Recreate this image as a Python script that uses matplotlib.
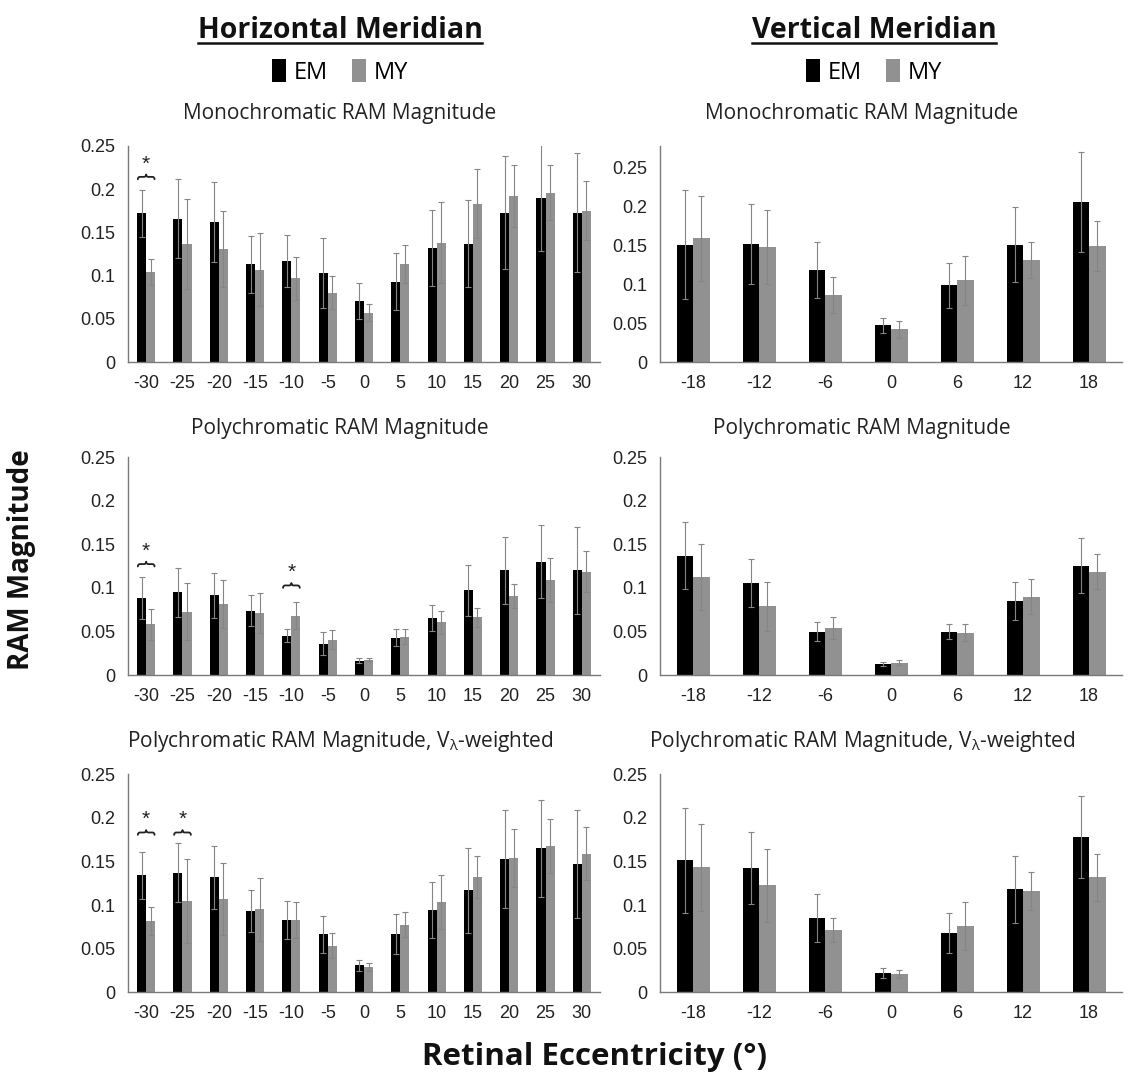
import matplotlib

matplotlib.use("Agg")
import matplotlib.pyplot as plt
import numpy as np
from matplotlib.lines import Line2D
from matplotlib.patches import Patch, PathPatch
from matplotlib.path import Path

plt.rcParams["font.family"] = ["Open Sans", "DejaVu Sans"]
plt.rcParams["mathtext.fontset"] = "custom"
plt.rcParams["mathtext.rm"] = "Open Sans"

EM_COLOR = "black"
MY_COLOR = "#919191"
ERR_COLOR = "#858585"

# ---------------------------------------------------------------------------
# Data: mean RAM magnitude and error (+/-) per eccentricity
# ---------------------------------------------------------------------------
horiz_ecc = ["-30", "-25", "-20", "-15", "-10", "-5", "0", "5", "10", "15", "20", "25", "30"]
vert_ecc = ["-18", "-12", "-6", "0", "6", "12", "18"]

# Monochromatic, horizontal meridian
mono_h_em = [0.172, 0.166, 0.162, 0.113, 0.117, 0.103, 0.071, 0.093, 0.132, 0.137, 0.173, 0.190, 0.173]
mono_h_em_err = [0.027, 0.046, 0.046, 0.033, 0.030, 0.041, 0.021, 0.033, 0.044, 0.050, 0.065, 0.062, 0.069]
mono_h_my = [0.104, 0.137, 0.131, 0.107, 0.097, 0.080, 0.057, 0.113, 0.138, 0.183, 0.192, 0.196, 0.175]
mono_h_my_err = [0.015, 0.052, 0.044, 0.042, 0.025, 0.019, 0.010, 0.022, 0.047, 0.040, 0.036, 0.032, 0.034]

# Monochromatic, vertical meridian
mono_v_em = [0.151, 0.152, 0.119, 0.047, 0.099, 0.151, 0.206]
mono_v_em_err = [0.070, 0.051, 0.036, 0.0095, 0.029, 0.048, 0.064]
mono_v_my = [0.159, 0.148, 0.0865, 0.042, 0.105, 0.131, 0.149]
mono_v_my_err = [0.055, 0.047, 0.023, 0.011, 0.032, 0.023, 0.032]

# Polychromatic, horizontal meridian
poly_h_em = [0.088, 0.095, 0.0915, 0.074, 0.045, 0.036, 0.0165, 0.043, 0.065, 0.097, 0.120, 0.130, 0.120]
poly_h_em_err = [0.024, 0.028, 0.026, 0.018, 0.0075, 0.013, 0.003, 0.0095, 0.015, 0.029, 0.038, 0.042, 0.050]
poly_h_my = [0.058, 0.0727, 0.0815, 0.0716, 0.068, 0.0406, 0.0176, 0.044, 0.0605, 0.066, 0.0904, 0.109, 0.1187]
poly_h_my_err = [0.018, 0.033, 0.028, 0.023, 0.0155, 0.011, 0.002, 0.0085, 0.013, 0.011, 0.014, 0.025, 0.0235]

# Polychromatic, vertical meridian
poly_v_em = [0.137, 0.106, 0.0498, 0.013, 0.0498, 0.085, 0.1256]
poly_v_em_err = [0.038, 0.0276, 0.011, 0.0025, 0.009, 0.022, 0.032]
poly_v_my = [0.1126, 0.079, 0.054, 0.0142, 0.0486, 0.090, 0.1187]
poly_v_my_err = [0.038, 0.028, 0.013, 0.003, 0.010, 0.020, 0.020]

# Polychromatic, V-lambda weighted, horizontal meridian
vlam_h_em = [0.134, 0.137, 0.132, 0.093, 0.083, 0.0665, 0.031, 0.0665, 0.0944, 0.117, 0.1525, 0.165, 0.1468]
vlam_h_em_err = [0.027, 0.034, 0.036, 0.024, 0.022, 0.021, 0.0065, 0.023, 0.032, 0.049, 0.056, 0.056, 0.062]
vlam_h_my = [0.082, 0.105, 0.1067, 0.095, 0.083, 0.0535, 0.029, 0.0776, 0.103, 0.1326, 0.1537, 0.168, 0.159]
vlam_h_my_err = [0.016, 0.048, 0.041, 0.036, 0.021, 0.014, 0.0042, 0.014, 0.031, 0.024, 0.033, 0.031, 0.030]

# Polychromatic, V-lambda weighted, vertical meridian
vlam_v_em = [0.1514, 0.1426, 0.0852, 0.0222, 0.0677, 0.118, 0.1778]
vlam_v_em_err = [0.060, 0.041, 0.028, 0.0057, 0.023, 0.0386, 0.047]
vlam_v_my = [0.1433, 0.1227, 0.0711, 0.021, 0.0765, 0.116, 0.132]
vlam_v_my_err = [0.050, 0.042, 0.014, 0.0046, 0.0275, 0.022, 0.027]

# Significant EM vs MY differences: (eccentricity index, brace height)
sig_mono_h = [(0, 0.2115)]
sig_poly_h = [(0, 0.1245), (4, 0.100)]
sig_vlam_h = [(0, 0.1805), (1, 0.1805)]

TITLE_MONO = "Monochromatic RAM Magnitude"
TITLE_POLY = "Polychromatic RAM Magnitude"
TITLE_VLAM = r"Polychromatic RAM Magnitude, V$_{\mathregular{λ}}$-weighted"


def _brace(ax, xc, y, half_w=0.23, h=0.0055):
    """Horizontal curly brace (tip up) centred on xc with a star above it."""
    a = h / 2
    q = half_w * 0.25
    x0, x1 = xc - half_w, xc + half_w
    verts = [
        (x0, y), (x0, y + a), (x0 + q, y + a),
        (xc - q, y + a), (xc, y + a), (xc, y + h),
        (xc, y + a), (xc + q, y + a),
        (x1 - q, y + a), (x1, y + a), (x1, y),
    ]
    codes = [
        Path.MOVETO, Path.CURVE3, Path.CURVE3,
        Path.LINETO, Path.CURVE3, Path.CURVE3,
        Path.CURVE3, Path.CURVE3,
        Path.LINETO, Path.CURVE3, Path.CURVE3,
    ]
    ax.add_patch(PathPatch(Path(verts, codes), fill=False, lw=1.3, edgecolor="#222222",
                           capstyle="round", joinstyle="round"))
    ax.text(xc, y + h + 0.001, "*", ha="center", va="bottom", fontsize=15,
            family=["Liberation Sans"], color="#222222")


def draw_panel(ax, labels, em, em_err, my, my_err, title, title_pos, ymax, sig=()):
    x = np.arange(len(labels))
    w = 0.25
    err_kw = dict(ecolor=ERR_COLOR, elinewidth=0.8, capsize=2.2, capthick=0.8)
    ax.bar(x - w / 2, em, w, yerr=em_err, color=EM_COLOR, error_kw=err_kw)
    ax.bar(x + w / 2, my, w, yerr=my_err, color=MY_COLOR, error_kw=err_kw)
    ax.set_xlim(-0.5, len(labels) - 0.5)
    ax.set_ylim(0, ymax)
    ax.set_yticks([0, 0.05, 0.1, 0.15, 0.2, 0.25])
    ax.set_yticklabels(["0", "0.05", "0.1", "0.15", "0.2", "0.25"])
    ax.set_xticks(x)
    ax.set_xticklabels(labels)
    ax.tick_params(length=0, labelsize=13, pad=9)
    for lab in ax.get_xticklabels() + ax.get_yticklabels():
        lab.set_family(["Liberation Sans"])
        lab.set_color("#222222")
    for side in ("top", "right"):
        ax.spines[side].set_visible(False)
    for side in ("left", "bottom"):
        ax.spines[side].set_color("#7a7a7a")
        ax.spines[side].set_linewidth(1.0)
    ax.text(title_pos[0], title_pos[1], title, transform=ax.transAxes,
            ha="center", va="bottom", fontsize=15, color="#222222")
    for idx, yb in sig:
        _brace(ax, idx, yb)


fig = plt.figure(figsize=(11.31, 10.79), dpi=100)

left_x, left_w = 0.1132, 0.4173
right_x, right_w = 0.5836, 0.4085
rows = [(0.6645, 0.2002), (0.3744, 0.2020), (0.0804, 0.2020)]
# title centres (axes fraction), slightly left of the plot centre
title_xs = [0.449, 0.437]
title_tops = [1 - 98 / 1079, 1 - 413 / 1079, 1 - 728 / 1079]

panels = [
    (horiz_ecc, mono_h_em, mono_h_em_err, mono_h_my, mono_h_my_err, TITLE_MONO, 0.25, sig_mono_h),
    (vert_ecc, mono_v_em, mono_v_em_err, mono_v_my, mono_v_my_err, TITLE_MONO, 0.278, ()),
    (horiz_ecc, poly_h_em, poly_h_em_err, poly_h_my, poly_h_my_err, TITLE_POLY, 0.25, sig_poly_h),
    (vert_ecc, poly_v_em, poly_v_em_err, poly_v_my, poly_v_my_err, TITLE_POLY, 0.25, ()),
    (horiz_ecc, vlam_h_em, vlam_h_em_err, vlam_h_my, vlam_h_my_err, TITLE_VLAM, 0.25, sig_vlam_h),
    (vert_ecc, vlam_v_em, vlam_v_em_err, vlam_v_my, vlam_v_my_err, TITLE_VLAM, 0.25, ()),
]

for i, (labels, em, em_err, my, my_err, title, ymax, sig) in enumerate(panels):
    y0, h = rows[i // 2]
    x0, w = (left_x, left_w) if i % 2 == 0 else (right_x, right_w)
    ax = fig.add_axes([x0, y0, w, h])
    title_pos = (title_xs[i % 2], (title_tops[i // 2] - y0) / h - 0.12)
    draw_panel(ax, labels, em, em_err, my, my_err, title, title_pos, ymax, sig)

# Column headings (underlined) and legends
headings = [("Horizontal Meridian", 340 / 1131), ("Vertical Meridian", 874 / 1131)]
head_texts = []
for text, xc in headings:
    t = fig.text(xc, 1 - 30 / 1079, text, ha="center", va="center",
                 fontsize=20.5, fontweight="bold", color="#111111")
    head_texts.append(t)

    handles = [Patch(facecolor=EM_COLOR, label="EM"), Patch(facecolor=MY_COLOR, label="MY")]
    fig.legend(handles=handles, loc="center", bbox_to_anchor=(xc, 1 - 72 / 1079),
               ncol=2, frameon=False, fontsize=17, handlelength=0.6, handleheight=1.1,
               handletextpad=0.35, columnspacing=1.0)

fig.canvas.draw()
renderer = fig.canvas.get_renderer()
for t in head_texts:
    bb = t.get_window_extent(renderer).transformed(fig.transFigure.inverted())
    yline = bb.y0 + 0.001
    fig.add_artist(Line2D([bb.x0, bb.x1], [yline, yline], transform=fig.transFigure,
                          color="#111111", lw=1.8))

fig.text(22 / 1131, 1 - 560 / 1079, "RAM Magnitude", rotation=90, ha="center", va="center",
         fontsize=20, fontweight="bold", color="#111111")
fig.text(594 / 1131, 1 - 1057 / 1079, "Retinal Eccentricity (°)", ha="center", va="center",
         fontsize=22.5, fontweight="bold", color="#111111")

fig.savefig("out.png", dpi=100)
